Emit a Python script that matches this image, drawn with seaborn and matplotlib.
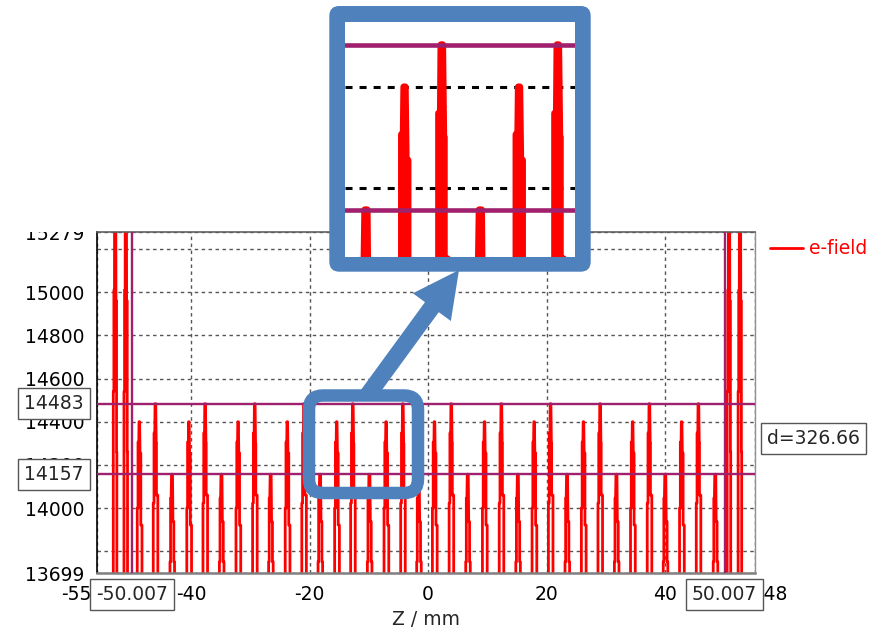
import matplotlib
matplotlib.use("Agg")
import matplotlib.pyplot as plt
import pandas as pd
import seaborn as sns
from matplotlib.patches import FancyBboxPatch, FancyArrow, Rectangle

# Field maxima of the 36 cell gaps (mm) and the class of each gap
SPIKE_Z = [-48.66, -45.96, -43.14, -40.30, -37.57, -34.80, -32.00, -29.20, -26.50,
           -23.70, -20.90, -18.16, -15.36, -12.66, -9.84, -7.03, -4.22, -1.52,
           1.13, 3.95, 6.75, 9.57, 12.40, 15.20, 17.94, 20.70, 23.50,
           26.26, 29.06, 31.83, 34.55, 37.37, 40.07, 42.82, 45.64, 48.50]
SPIKE_KIND = ["A", "B", "C", "A", "B", "C", "A", "B", "C",
              "A", "B", "C", "A", "B", "C", "A", "B", "C",
              "A", "B", "C", "A", "B", "C", "A", "B", "C",
              "A", "B", "C", "A", "B", "C", "A", "B", "C"]
# strong end-cell gaps outside the flat section
END_Z = [-52.80, -51.00, 50.75, 52.60]

# flatness markers
E_HIGH = 14483.40
E_LOW = 14156.74
Z_MARK = 50.007

BASE = 13400.0  # field level between gaps (below the displayed window)

# stepped gap profiles: offsets from the gap centre (mm) and field values
PROF_A_DZ = [-0.40, -0.40, -0.27, -0.27, -0.14, -0.10, 0.00, 0.07, 0.20, 0.20, 0.40, 0.40]
PROF_A_E = [BASE, 14000, 14000, 14306, 14306, 14400, 14400, 14255, 14255, 13921, 13921, BASE]
PROF_B_DZ = [-0.40, -0.40, -0.27, -0.27, -0.14, -0.10, 0.02, 0.10, 0.14, 0.14, 0.37, 0.37]
PROF_B_E = [BASE, 14023, 14023, 14348, 14348, E_HIGH, E_HIGH, 14300, 14300, 14060, 14060, BASE]
PROF_C_DZ = [-0.40, -0.40, -0.30, -0.30, -0.20, -0.14, 0.03, 0.10, 0.25, 0.25, 0.37, 0.37]
PROF_C_E = [BASE, 13751, 13751, 14046, 14046, E_LOW, E_LOW, 13937, 13937, 13751, 13751, BASE]
PROF_END_DZ = [-0.30, -0.30, -0.20, -0.20, -0.10, -0.05, 0.05, 0.15, 0.25, 0.25, 0.30, 0.30]
PROF_END_E = [BASE, 14540, 14540, 15010, 15010, 16500, 16500, 14960, 14960, 14260, 14260, BASE]

# axis ranges and ticks
X_MIN, X_MAX = -55.848, 55.148
Y_MIN, Y_MAX = 13699, 15279
X_TICKS = [X_MIN, -40, -20, 0, 20, 40, X_MAX]
X_LABELS = ["-55.848", "-40", "-20", "0", "20", "40", "55.148"]
Y_TICKS = [13699, 13800, 14000, 14200, 14400, 14600, 14800, 15000, 15200, 15279]
Y_LABELS = ["13699", "", "14000", "14200", "14400", "14600", "14800", "15000", "", "15279"]

profiles = {
    "A": (PROF_A_DZ, PROF_A_E),
    "B": (PROF_B_DZ, PROF_B_E),
    "C": (PROF_C_DZ, PROF_C_E),
    "END": (PROF_END_DZ, PROF_END_E),
}
gaps = sorted(list(zip(SPIKE_Z, SPIKE_KIND)) + [(z, "END") for z in END_Z])
z_vals, e_vals = [], []
for zc, kind in gaps:
    dz, ev = profiles[kind]
    z_vals += [zc + d for d in dz]
    e_vals += list(ev)
df = pd.DataFrame({"Z": z_vals, "E": e_vals})

sns.set_style("white")
plt.rcParams["font.family"] = ["DejaVu Sans"]
FS = 13.5
RED = "#ff0000"
PURPLE = "#a0206e"
BLUE = "#4f81bd"
W, H = 872, 641

fig = plt.figure(figsize=(W / 100, H / 100), dpi=100)
ax = fig.add_axes([97 / W, 1 - 573 / H, 658 / W, 341 / H])

sns.lineplot(data=df, x="Z", y="E", sort=False, estimator=None, color=RED,
             lw=2.0, label="e-field", ax=ax, zorder=2)
for v in (E_HIGH, E_LOW):
    ax.axhline(v, color=PURPLE, lw=1.7, zorder=3)
for v in (-Z_MARK, Z_MARK):
    ax.axvline(v, color=PURPLE, lw=1.7, zorder=3)

ax.set_xlim(X_MIN, X_MAX)
ax.set_ylim(Y_MIN, Y_MAX)
ax.set_xticks(X_TICKS)
ax.set_xticklabels(X_LABELS)
ax.set_yticks(Y_TICKS)
ax.set_yticklabels(Y_LABELS)
ax.grid(True, color="#555555", lw=1.0, ls=(0, (2.5, 2.5)))
ax.set_axisbelow(True)
ax.tick_params(axis="both", labelsize=FS, length=3, width=1, pad=6,
               colors="#777777", labelcolor="black")
ax.set_xlabel("Z / mm", fontsize=FS, labelpad=4)
ax.set_ylabel("")
ax.spines["left"].set_color("black")
ax.spines["left"].set_linewidth(1.2)
ax.spines["bottom"].set_color("#808080")
ax.spines["bottom"].set_linewidth(1.8)
ax.spines["top"].set_color("#606060")
ax.spines["top"].set_linewidth(1.2)
ax.spines["right"].set_color("#909090")
ax.spines["right"].set_linewidth(1.0)

leg = ax.legend(loc="center left", bbox_to_anchor=(770 / W, 1 - 249 / H),
                bbox_transform=fig.transFigure, frameon=False, fontsize=FS,
                handlelength=1.75, handletextpad=0.35, borderpad=0, borderaxespad=0)
for t in leg.get_texts():
    t.set_color(RED)

box = dict(boxstyle="square,pad=0.32", fc="white", ec="#555555", lw=1)
ytr = ax.get_yaxis_transform()
xtr = ax.get_xaxis_transform()
ax.text(-0.065, E_HIGH, f"{E_HIGH:.0f}", transform=ytr, ha="center", va="center",
        fontsize=FS, bbox=box, clip_on=False, zorder=10)
ax.text(-0.065, E_LOW, f"{E_LOW:.0f}", transform=ytr, ha="center", va="center",
        fontsize=FS, bbox=box, clip_on=False, zorder=10)
ax.text(1.0886, (E_HIGH + E_LOW) / 2, f"d={E_HIGH - E_LOW:.2f}", transform=ytr,
        ha="center", va="center", fontsize=FS, bbox=box, clip_on=False, zorder=10)
ax.text(-Z_MARK, -0.064, f"{-Z_MARK:.3f}", transform=xtr, ha="center", va="center",
        fontsize=FS, bbox=box, clip_on=False, zorder=10)
ax.text(Z_MARK, -0.064, f"{Z_MARK:.3f}", transform=xtr, ha="center", va="center",
        fontsize=FS, bbox=box, clip_on=False, zorder=10)

# callout layer in pixel coordinates
ov = fig.add_axes([0, 0, 1, 1], zorder=1)
ov.set_xlim(0, W)
ov.set_ylim(H, 0)
ov.axis("off")
ov.add_patch(Rectangle((0, 0), 96, 231.5, fc="white", ec="none"))
ov.add_patch(FancyBboxPatch((309, 395.5), 109, 97.5,
                            boxstyle="round,pad=0,rounding_size=14",
                            fc="none", ec=BLUE, lw=9))
ov.add_patch(FancyArrow(367, 396, 92, -126, width=17, head_width=47, head_length=46,
                        length_includes_head=True, fc=BLUE, ec="none"))
ov.add_patch(FancyBboxPatch((329.3, 6), 261.4, 265.7,
                            boxstyle="round,pad=0,rounding_size=10",
                            fc=BLUE, ec="none"))

# magnified view of the central cells
ax_in = fig.add_axes([345 / W, 1 - 256.7 / H, 230 / W, 235 / H], zorder=2)
ax_in.set_facecolor("white")
for v in (14200, 14400):
    ax_in.axhline(v, color="black", lw=2.2, ls=(0, (2.3, 2.3)), zorder=1)
sns.lineplot(data=df, x="Z", y="E", sort=False, estimator=None, color=RED,
             lw=5.0, ax=ax_in, zorder=2, legend=False)
for v in (E_HIGH, E_LOW):
    ax_in.axhline(v, color=PURPLE, lw=3.3, zorder=3)
ax_in.set_xlim(-19.74, -3.01)
ax_in.set_ylim(14064, 14529)
ax_in.set_xticks([])
ax_in.set_yticks([])
ax_in.set_xlabel("")
ax_in.set_ylabel("")
for s in ax_in.spines.values():
    s.set_visible(False)

fig.savefig("out.png", dpi=100)
